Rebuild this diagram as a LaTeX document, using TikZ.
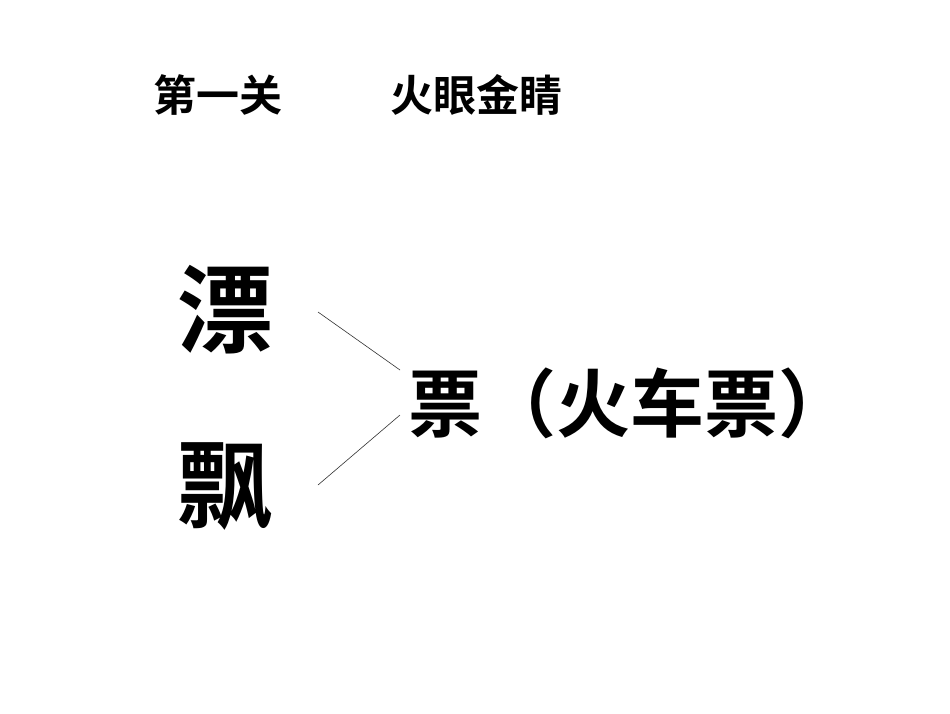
\documentclass[tikz,border=0pt]{standalone}
\usepackage{fontspec}
\newfontfamily\cjk{Noto Sans CJK SC Bold}
\begin{document}
\begin{tikzpicture}[x=1pt,y=-1pt,
  txt/.style={inner sep=0pt,anchor=west,font=\cjk},
  ln/.style={draw=black!80,line width=0.6pt}]
\useasboundingbox[fill=white] (0,0) rectangle (950,713);
\node[txt,font=\cjk\fontsize{43}{43}\selectfont] (t1) at (153,95) {第一关};
\node[txt,font=\cjk\fontsize{43}{43}\selectfont] (t2) at (390,95) {火眼金睛};
\node[txt,font=\cjk\fontsize{96}{96}\selectfont] (a) at (177,310) {漂};
\node[txt,font=\cjk\fontsize{96}{96}\selectfont] (b) at (177,487) {飘};
\node[txt,font=\cjk\fontsize{74}{74}\selectfont] (c) at (408,403) {票（火车票）};
\coordinate (a1) at (318,312);
\coordinate (b1) at (318,485);
\coordinate (c1) at (400,370);
\coordinate (c2) at (400,415);
\draw[ln] (a1) -- (c1);
\draw[ln] (b1) -- (c2);
\end{tikzpicture}
\end{document}
